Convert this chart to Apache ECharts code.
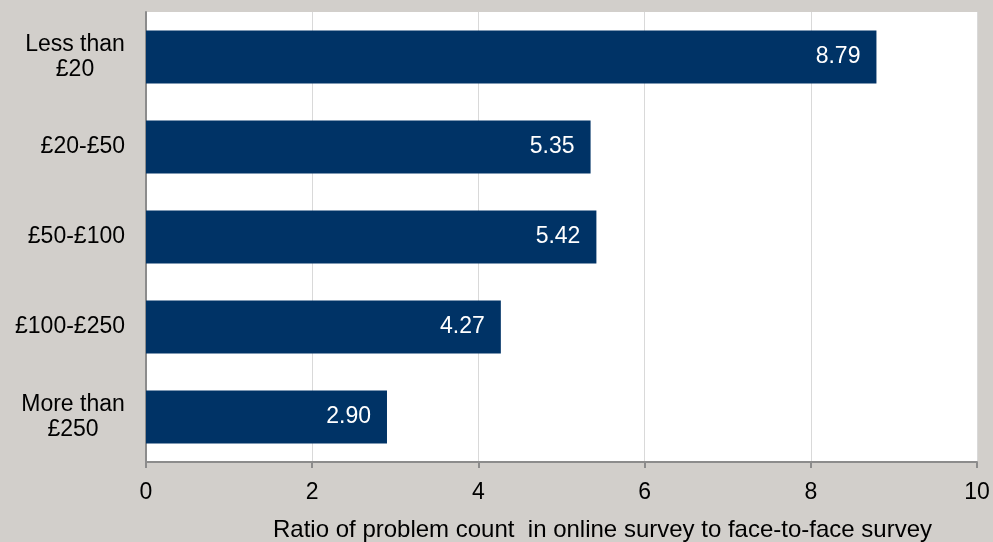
<!DOCTYPE html>
<html>
<head>
<meta charset="utf-8">
<script src="https://cdn.jsdelivr.net/npm/echarts@6/dist/echarts.min.js"></script>
<style>
  html, body { margin: 0; padding: 0; background: #d2cfcb; }
  #chart { width: 993px; height: 542px; }
</style>
</head>
<body>
<div id="chart"></div>
<script>
// Spend bands, listed top to bottom
const categories = ['Less than\n£20', '£20-£50', '£50-£100', '£100-£250', 'More than\n£250'];
// Ratio of problem count, online vs face-to-face
const ratios = [8.79, 5.35, 5.42, 4.27, 2.90];
const xTicks = { min: 0, max: 10, interval: 2 };
const axisTitle = 'Ratio of problem count  in online survey to face-to-face survey';

const font = 'Liberation Sans, Arial, sans-serif';
const catFontSize = 23;
const catLineHeight = 25;

// Width of a string in the category font, so wrapped labels can be centred line by line
const measureCtx = document.createElement('canvas').getContext('2d');
measureCtx.font = catFontSize + 'px ' + font;
function textWidth(s) { return Math.ceil(measureCtx.measureText(s).width); }

function categoryLabel(value) {
  if (value.indexOf('\n') < 0) return value;
  const lines = value.split('\n');
  const w = Math.max.apply(null, lines.map(textWidth));
  return lines.map(l => '{c' + w + '|' + l + '}').join('\n');
}

// Rich styles for every wrapped label width in use
const richStyles = {};
categories.forEach(c => {
  if (c.indexOf('\n') >= 0) {
    const w = Math.max.apply(null, c.split('\n').map(textWidth));
    richStyles['c' + w] = { width: w, align: 'center', fontSize: catFontSize,
      fontFamily: font, color: '#000', lineHeight: catLineHeight };
  }
});

const chart = echarts.init(document.getElementById('chart'), null, { renderer: 'canvas' });

chart.setOption({
  backgroundColor: '#d2cfcb',
  animation: false,
  grid: {
    left: 146, right: 16, top: 12, bottom: 80,
    outerBoundsMode: 'none',
    containLabel: false,
    show: true, backgroundColor: '#ffffff', borderWidth: 0
  },
  xAxis: {
    type: 'value',
    min: xTicks.min, max: xTicks.max, interval: xTicks.interval,
    name: axisTitle,
    nameLocation: 'middle',
    nameGap: 56,
    nameTextStyle: { color: '#000', fontSize: 24, fontFamily: font, padding: [0, 0, 0, 82] },
    axisLine: { show: true, lineStyle: { color: '#8c8c8c', width: 2 } },
    axisTick: { show: true, length: 6, lineStyle: { color: '#8c8c8c', width: 2 } },
    axisLabel: { color: '#000', fontSize: 23, fontFamily: font, margin: 19,
      formatter: v => String(v) },
    splitLine: { show: true, lineStyle: { color: '#d9d9d9', width: 1 } }
  },
  yAxis: {
    type: 'category',
    data: categories,
    inverse: true,
    axisLine: { show: true, lineStyle: { color: '#8c8c8c', width: 2 } },
    axisTick: { show: false },
    axisLabel: { color: '#000', fontSize: catFontSize, fontFamily: font, margin: 21,
      lineHeight: catLineHeight, formatter: categoryLabel, rich: richStyles },
    splitLine: { show: false }
  },
  series: [{
    type: 'bar',
    data: ratios,
    barCategoryGap: '41%',
    itemStyle: { color: '#003366' },
    label: {
      show: true,
      position: 'insideRight',
      distance: 16,
      color: '#ffffff',
      fontSize: 23,
      fontFamily: font,
      formatter: p => p.value.toFixed(2)
    }
  }]
});
</script>
</body>
</html>
